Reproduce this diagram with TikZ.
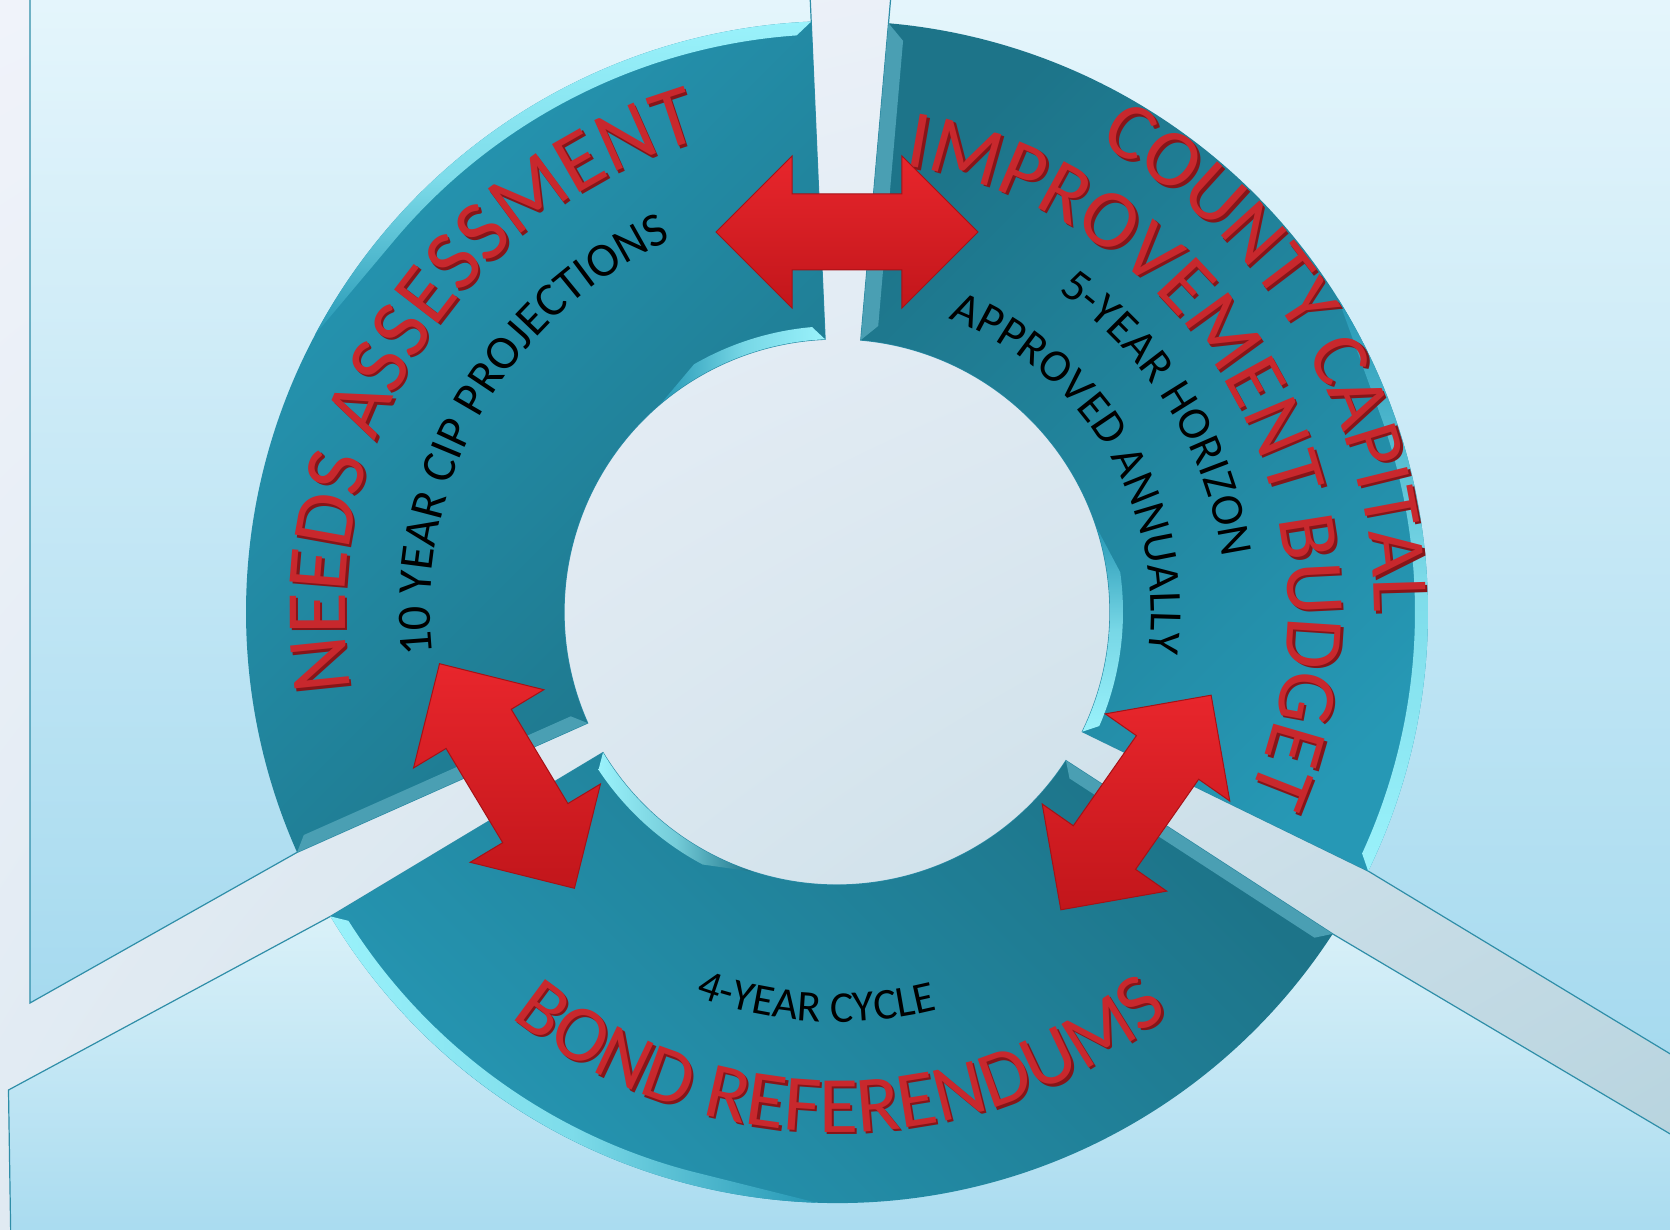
\documentclass[tikz,border=0pt]{standalone}
\usepackage{fontspec}
\setmainfont{Carlito}
\usepackage{tikz}
\usetikzlibrary{shapes.arrows,decorations.text,shadings}
\definecolor{bgA}{HTML}{F0F3FA}
\definecolor{bgB}{HTML}{E6EEF6}
\definecolor{bgC}{HTML}{E0EAF2}
\definecolor{bgD}{HTML}{B4D2DD}
\definecolor{paneltop}{HTML}{E6F6FC}
\definecolor{panelfade}{HTML}{F3FCFD}
\definecolor{panelbot}{HTML}{A6DAEF}
\definecolor{panelline}{HTML}{2F8EA8}
\definecolor{tealL}{HTML}{2698B5}
\definecolor{tealD}{HTML}{1D7489}
\definecolor{rim}{HTML}{9AF2FB}
\definecolor{edge}{HTML}{4A9FB3}
\definecolor{arrowhi}{HTML}{E8262C}
\definecolor{arrowlo}{HTML}{C2161B}
\definecolor{arrowline}{HTML}{A51217}
\definecolor{headred}{HTML}{C8282D}
\definecolor{headshade}{HTML}{861519}

\tikzset{
  panel/.style={draw=panelline, line width=1.2},
  blockarrow/.style={double arrow, double arrow head extend=38, inner sep=0, inner ysep=37.5,
    minimum height=262, draw=arrowline, line width=1, top color=arrowhi, bottom color=arrowlo},
  curved/.style n args={3}{decorate, decoration={text along path, text align=center,
    text color=#1, text={|\fontsize{#2}{#2}\selectfont|#3}}},
  dropped/.style={shift={(2.5,-2.5)}},
}

\begin{document}
\begin{tikzpicture}[x=1pt,y=1pt]
\useasboundingbox (-837,-618) rectangle (833,612);
\clip (-837,-618) rectangle (833,612);
% background
\shade[upper left=bgA, upper right=bgB, lower left=bgC, lower right=bgD] (-837,-618) rectangle (833,612);
% panels
\path[panel, top color=paneltop, bottom color=panelbot] (92.5:273) -- (92.5:640) -- (-807,640) -- (-807,-391)
  -- (204:591) -- (204:273) arc[start angle=204, end angle=92.5, radius=273] -- cycle;
\path[panel, top color=paneltop, bottom color=panelbot] (85:273) -- (85:640) -- (840,640) -- (840,-446)
  -- (-26:591) -- (-26:273) arc[start angle=-26, end angle=85, radius=273] -- cycle;
\path[panel, top color=panelfade, bottom color=panelbot] (211:273) -- (211:591) -- (-828.5,-478) -- (-826,-640)
  -- (840,-640) -- (840,-526) -- (327:591) -- (327:273) arc[start angle=327, end angle=211, radius=273] -- cycle;
% ring segments
\shade[top color=tealL, bottom color=tealD, shading angle=45] (92.5:591) arc[start angle=92.5, end angle=204, radius=591]
  -- (204:273) arc[start angle=204, end angle=92.5, radius=273] -- cycle;
\shade[top color=tealD, bottom color=tealL, shading angle=45] (-26:591) arc[start angle=-26, end angle=85, radius=591]
  -- (85:273) arc[start angle=85, end angle=-26, radius=273] -- cycle;
\shade[top color=tealD, bottom color=tealL, shading angle=-45] (211:591) arc[start angle=211, end angle=327, radius=591]
  -- (327:273) arc[start angle=327, end angle=211, radius=273] -- cycle;
% rims
\shade[top color=rim, bottom color=tealL, middle color=rim!75!tealL] (92.5:591) arc[start angle=92.5, end angle=152, radius=591]
  -- (140:578) arc[start angle=140, end angle=94, radius=578] -- cycle;
\shade[left color=tealL, right color=rim, middle color=rim!70!tealL] (92.5:273) arc[start angle=92.5, end angle=130, radius=273]
  -- (120:286) arc[start angle=120, end angle=95, radius=286] -- cycle;
\shade[top color=tealL, bottom color=rim, middle color=rim!75!tealL] (-26:591) arc[start angle=-26, end angle=32, radius=591]
  -- (20:578) arc[start angle=20, end angle=-24.7, radius=578] -- cycle;
\shade[top color=tealL, bottom color=rim, middle color=rim!70!tealL] (-26:273) arc[start angle=-26, end angle=18, radius=273]
  -- (8:286) arc[start angle=8, end angle=-23.5, radius=286] -- cycle;
\shade[left color=rim, right color=tealL, middle color=rim!75!tealL] (211:591) arc[start angle=211, end angle=268, radius=591]
  -- (256:578) arc[start angle=256, end angle=212.3, radius=578] -- cycle;
\shade[left color=rim, right color=tealD, middle color=rim!70!tealD] (211:273) arc[start angle=211, end angle=252, radius=273]
  -- (242:286) arc[start angle=242, end angle=213.5, radius=286] -- cycle;
% cut edges
\fill[edge] (204:273) -- (204:591) -- (202.7:578) -- (201.4:286) -- cycle;
\fill[edge] (85:273) -- (85:591) -- (83.4:575) -- (81.8:289) -- cycle;
\fill[edge] (327:273) -- (327:591) -- (325.7:578) -- (324.4:286) -- cycle;
% labels
\path[dropped, curved={headshade}{86}{NEEDS ASSESSMENT}] (202.5:492) arc[start angle=202.5, end angle=92.5, radius=492];
\path[curved={headred}{86}{NEEDS ASSESSMENT}] (202.5:492) arc[start angle=202.5, end angle=92.5, radius=492];
\path[curved={black}{48}{10 YEAR CIP PROJECTIONS}] (205:407) arc[start angle=205, end angle=95, radius=407];
\path[dropped, curved={headshade}{81}{COUNTY CAPITAL}] (85:537) arc[start angle=85, end angle=-24.2, radius=537];
\path[curved={headred}{81}{COUNTY CAPITAL}] (85:537) arc[start angle=85, end angle=-24.2, radius=537];
\path[dropped, curved={headshade}{83}{IMPROVEMENT BUDGET}] (94.7:451) arc[start angle=94.7, end angle=-37.3, radius=451];
\path[curved={headred}{83}{IMPROVEMENT BUDGET}] (94.7:451) arc[start angle=94.7, end angle=-37.3, radius=451];
\path[curved={black}{46}{5-YEAR HORIZON}] (81.7:389) arc[start angle=81.7, end angle=-18.3, radius=389];
\path[curved={black}{46}{APPROVED ANNUALLY}] (85.8:314) arc[start angle=85.8, end angle=-24.2, radius=314];
\path[dropped, curved={headshade}{80}{BOND REFERENDUMS}] (210.45:520) arc[start angle=210.45, end angle=330.45, radius=520];
\path[curved={headred}{80}{BOND REFERENDUMS}] (210.45:520) arc[start angle=210.45, end angle=330.45, radius=520];
\path[curved={black}{44}{4-YEAR CYCLE}] (227:410) arc[start angle=227, end angle=307, radius=410];
% arrows
\node[blockarrow] (arrtop) at (10,380) {};
\node[blockarrow, rotate=121] (arrleft) at (-330,-164) {};
\node[blockarrow, rotate=55] (arrright) at (299,-190.5) {};
\end{tikzpicture}
\end{document}
